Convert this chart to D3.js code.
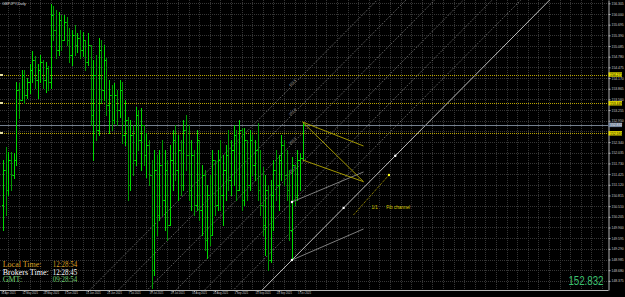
<!DOCTYPE html>
<html>
<head>
<meta charset="utf-8">
<script src="https://cdn.jsdelivr.net/npm/d3@7"></script>
<style>
  html, body { margin: 0; padding: 0; background: #000; overflow: hidden; }
  svg { display: block; }
</style>
</head>
<body>
<div id="vis"></div>
<script>
// Daily bars, 30 Apr 2021 .. 6 Oct 2021 (bar index 0..113)
const highs = [151.829,152.2,152.057,152.057,152.029,154.057,154.029,154.4,154.4,154.171,
  154.571,154.943,154.8,154.571,154.829,154.686,154.629,154.514,156.286,156.229,
  156.114,156.057,155.971,155.971,155.914,155.6,155.543,155.686,155.457,155.543,
  155.486,155.257,155.457,155.114,154.686,154.829,155.314,155.257,155.114,154.743,
  154.114,153.971,154.029,153.829,154.114,154.057,153.543,153.057,152.971,152.829,
  153.343,153.257,153.314,152.829,152.6,152.4,151.829,152.114,151.971,152.114,
  152.4,152.114,151.829,152.257,152.686,152.829,152.543,152.4,152.971,153.114,
  152.829,152.4,152.114,152.686,152.4,151.686,151.543,151.114,151.4,152.114,
  151.829,152.114,152.4,151.971,152.257,152.686,152.4,152.829,152.686,152.971,
  152.743,152.743,152.4,152.686,152.543,152.4,152.886,152.114,151.629,151.4,
  151.114,151.257,151.829,152.114,151.971,152.543,152.4,152.114,151.543,151.914,
  151.686,152.114,152.029,152.914];
const lows = [149.829,150.257,150.829,150.971,151.314,151.686,153.029,153.543,153.457,153.6,
  153.743,154.057,153.886,153.6,154.057,153.886,153.771,153.829,153.886,155.257,
  154.743,154.829,154.971,155.257,155.114,154.629,154.543,154.829,154.914,154.743,
  154.8,154.4,154.543,152.829,151.829,152.4,152.543,153.457,153.543,153.114,
  152.6,152.686,152.886,152.829,153.057,152.314,152.257,150.686,150.971,151.4,
  151.686,152.114,151.543,151.686,151.343,151.114,148.171,148.543,149.686,150.114,
  150.257,149.829,149.543,149.971,150.971,151.257,150.686,150.829,150.971,151.543,
  150.686,150.4,150.257,150.4,150.114,149.686,149.257,149.029,149.4,149.686,
  150.257,150.4,150.4,149.971,150.686,150.971,150.829,151.114,150.686,150.971,
  150.4,150.543,150.686,150.971,151.4,151.257,150.686,150.257,149.686,149.114,
  148.686,148.914,149.829,150.686,150.4,151.257,151.114,150.686,149.543,148.971,
  150.543,150.686,150.971,151.829];
const opens = [150.543,151.543,150.971,151.829,151.4,151.829,153.829,153.543,154.257,153.686,
  154.057,154.4,154.686,154.114,154.4,154.629,154.114,154.457,154.057,155.971,
  155.543,154.971,155.829,155.257,155.771,155.257,154.829,155.4,155.114,155.314,
  154.971,155.257,154.629,155.114,153.114,154.257,152.686,154.971,153.829,154.686,
  153.4,153.686,152.971,153.686,153.257,153.829,152.543,152.971,151.114,152.543,
  151.829,153.114,152.4,152.829,151.971,152.257,151.4,148.686,151.543,150.257,
  151.686,150.686,151.543,149.971,151.829,152.4,151.543,152.114,151.114,152.686,
  151.971,150.971,151.971,150.543,152.4,150.4,151.4,149.543,150.829,149.686,
  151.829,150.543,151.829,150.829,151.543,151.971,151.257,152.114,152.543,150.971,
  152.686,150.686,152.4,151.114,152.4,151.686,152.114,150.971,150.543,149.971,
  150.971,148.971,150.829,151.543,151.114,151.829,152.257,151.4,150.971,149.829,
  151.686,150.829,151.829,151.886];
const closes = [151.543,150.971,151.829,151.4,151.829,153.829,153.543,154.257,153.686,154.057,
  154.4,154.686,154.114,154.4,154.629,154.114,154.457,154.057,155.971,155.543,
  154.971,155.829,155.257,155.771,155.257,154.829,155.4,155.114,155.314,154.971,
  155.257,154.629,155.114,153.114,154.257,152.686,154.971,153.829,154.686,153.4,
  153.686,152.971,153.686,153.257,153.829,152.543,152.971,151.114,152.543,151.829,
  153.114,152.4,152.829,151.971,152.257,151.4,148.686,151.543,150.257,151.686,
  150.686,151.543,149.971,151.829,152.4,151.543,152.114,151.114,152.686,151.971,
  150.971,151.971,150.543,152.4,150.4,151.4,149.543,150.829,149.686,151.829,
  150.543,151.829,150.829,151.543,151.971,151.257,152.114,152.543,150.971,152.686,
  150.686,152.4,151.114,152.4,151.686,152.114,150.971,150.543,149.971,150.971,
  148.971,150.829,151.543,151.114,151.829,152.257,151.4,150.971,149.829,151.686,
  150.829,151.829,151.886,152.832];

const dateLabelBars = [0, 8, 16, 24, 32, 40, 48, 56, 64, 72, 80, 88, 96, 104, 112];
const dateLabels = ['30 Apr 2021', '12 May 2021', '24 May 2021', '3 Jun 2021', '15 Jun 2021',
  '25 Jun 2021', '7 Jul 2021', '19 Jul 2021', '29 Jul 2021', '10 Aug 2021', '20 Aug 2021',
  '1 Sep 2021', '13 Sep 2021', '23 Sep 2021', '5 Oct 2021'];

const priceTicks = [156.305,156.000,155.695,155.390,155.085,154.780,154.475,154.170,153.865,
  153.560,153.255,152.950,152.645,152.340,152.035,151.730,151.425,151.120,150.815,150.510,
  150.205,149.900,149.595,149.290,148.985,148.680,148.375];

const levelPrices = [154.271, 153.449, 152.591];   // yellow horizontal lines
const bidPrice = 152.832;

// fib channel: base through two points, levels given at bar 109
const chanBars = [109, 148];
const chanBase = [148.971, 151.95];
const chanLevelPrices = [148.971, 149.8, 150.629, 151.457, 152.286, 153.114, 153.943];
const chanLevelNames = ['', '', '', '161.8', '200.0', '261.8', '423.6'];
const chanDots = [[109, 148.971], [128.5, 150.46], [148, 151.95], [109, 150.629]];

const graySegs = [[109, 150.629, 136, 151.486], [109, 148.971, 136, 149.857]];
const yellowSegs = [[113, 152.914, 136, 152.229], [113, 152.914, 136, 151.209], [113, 151.829, 136, 151.209]];
const arrowSeg = [132.2, 150.257, 145.6, 151.4];
const noteTexts = [['1/1', 139, 150.42], ['Fib channel', 144.6, 150.42]];

const timeRows = [['Local Time:', '12:28:54', '#d9a024'], ['Brokers Time:', '12:28:45', '#ffffff'], ['GMT:', '09:28:54', '#6fd06f']];

// ---------------------------------------------------------------
let W = 625, H = 297;
let plotRight = 608, plotBottom = 290;

let svg = d3.select('#vis').append('svg').attr('width', W).attr('height', H);
svg.append('rect').attr('width', W).attr('height', H).attr('fill', '#000');

let x = d3.scaleLinear().domain([0, 113]).range([3.1, 302.55]);
let y = d3.scaleLinear().domain([148.114, 156.4]).range([plotBottom, 0]);
let px = d => Math.round(x(d)) + 0.5;
let py = d => Math.round(y(d)) + 0.5;

svg.append('clipPath').attr('id', 'plotClip')
  .append('rect').attr('x', 0).attr('y', 0).attr('width', plotRight).attr('height', plotBottom);

// grid
let grid = svg.append('g')
  .attr('stroke', '#363636').attr('stroke-dasharray', '1,1').attr('shape-rendering', 'crispEdges');
grid.selectAll('line.gy').data(priceTicks).join('line').attr('class', 'gy')
  .attr('x1', 0).attr('x2', plotRight).attr('y1', py).attr('y2', py);
grid.selectAll('line.gx').data(d3.range(2, 229, 4)).join('line').attr('class', 'gx')
  .attr('x1', px).attr('x2', px).attr('y1', 0).attr('y2', plotBottom);

let draw = svg.append('g').attr('clip-path', 'url(#plotClip)');

// fib channel lines
let slope = (chanBase[1] - chanBase[0]) / (chanBars[1] - chanBars[0]);
let chanG = draw.append('g');
chanG.selectAll('line').data(chanLevelPrices).join('line')
  .attr('x1', x(-80)).attr('x2', x(260))
  .attr('y1', d => y(d + slope * (-80 - chanBars[0])))
  .attr('y2', d => y(d + slope * (260 - chanBars[0])))
  .attr('stroke', (d, i) => i == 0 ? '#d0d0d0' : '#9a9a9a')
  .attr('stroke-width', (d, i) => i == 0 ? 0.9 : 0.8)
  .attr('stroke-dasharray', (d, i) => i == 0 ? null : '1,1.5');

chanG.selectAll('text').data(chanLevelPrices).join('text')
  .attr('transform', d => `translate(${x(109.5)},${y(d + slope * 0.5) - 1}) rotate(-45)`)
  .attr('fill', '#bdbdbd').attr('font-family', 'Liberation Sans, Arial, sans-serif')
  .attr('font-size', '3.4px').attr('text-anchor', 'middle')
  .text((d, i) => chanLevelNames[i]);

// horizontal levels
draw.selectAll('line.lvl').data(levelPrices).join('line').attr('class', 'lvl')
  .attr('x1', 0).attr('x2', plotRight).attr('y1', py).attr('y2', py)
  .attr('stroke', '#b9a400').attr('stroke-dasharray', '1,1').attr('shape-rendering', 'crispEdges');
draw.selectAll('rect.lvlmark').data(levelPrices).join('rect').attr('class', 'lvlmark')
  .attr('x', 0).attr('y', d => Math.round(y(d)) - 1).attr('width', 3).attr('height', 2)
  .attr('fill', '#e8e0a0');

draw.append('line')
  .attr('x1', 0).attr('x2', plotRight).attr('y1', py(bidPrice)).attr('y2', py(bidPrice))
  .attr('stroke', '#74808f').attr('shape-rendering', 'crispEdges');

// bars: up bars lime, down bars a darker green
let barColor = i => closes[i] >= opens[i] ? '#00dc00' : '#009c00';
let barG = draw.append('g').attr('shape-rendering', 'crispEdges');
barG.selectAll('line.hl').data(highs).join('line').attr('class', 'hl')
  .attr('stroke', (d, i) => barColor(i))
  .attr('x1', (d, i) => px(i)).attr('x2', (d, i) => px(i))
  .attr('y1', d => Math.round(y(d))).attr('y2', (d, i) => Math.round(y(lows[i])) + 1);
barG.selectAll('line.op').data(opens).join('line').attr('class', 'op')
  .attr('stroke', (d, i) => barColor(i))
  .attr('x1', (d, i) => px(i) - 1.5).attr('x2', (d, i) => px(i) - 0.5)
  .attr('y1', py).attr('y2', py);
barG.selectAll('line.cl').data(closes).join('line').attr('class', 'cl')
  .attr('stroke', (d, i) => barColor(i))
  .attr('x1', (d, i) => px(i) + 0.5).attr('x2', (d, i) => px(i) + 1.5)
  .attr('y1', py).attr('y2', py);

// gray and yellow segments
draw.selectAll('line.gseg').data(graySegs).join('line').attr('class', 'gseg')
  .attr('x1', d => x(d[0])).attr('y1', d => y(d[1])).attr('x2', d => x(d[2])).attr('y2', d => y(d[3]))
  .attr('stroke', '#8c8c8c').attr('stroke-width', 0.9);
draw.selectAll('line.yseg').data(yellowSegs).join('line').attr('class', 'yseg')
  .attr('x1', d => x(d[0])).attr('y1', d => y(d[1])).attr('x2', d => x(d[2])).attr('y2', d => y(d[3]))
  .attr('stroke', '#b4a800').attr('stroke-width', 0.9);

draw.append('line')
  .attr('x1', x(arrowSeg[0])).attr('y1', y(arrowSeg[1])).attr('x2', x(arrowSeg[2])).attr('y2', y(arrowSeg[3]))
  .attr('stroke', '#c8b400').attr('stroke-width', 0.9).attr('stroke-dasharray', '1,1');
draw.append('circle').attr('cx', x(arrowSeg[2])).attr('cy', y(arrowSeg[3])).attr('r', 1.2).attr('fill', '#ffff20');

draw.selectAll('circle.dot').data(chanDots).join('circle').attr('class', 'dot')
  .attr('cx', d => x(d[0])).attr('cy', d => y(d[1])).attr('r', 1.2).attr('fill', '#ffffff');

draw.selectAll('text.note').data(noteTexts).join('text').attr('class', 'note')
  .attr('x', d => x(d[1])).attr('y', d => y(d[2]))
  .attr('fill', '#d8c800').attr('font-family', 'Liberation Sans, Arial, sans-serif')
  .attr('font-size', '4.6px').text(d => d[0]);

// right price axis; plain labels that sit under a coloured tag are left out
let tagPrices = levelPrices.concat([bidPrice]);
let freeTicks = priceTicks.filter(t => tagPrices.every(p => Math.abs(y(t) - y(p)) > 3));
let yAxis = svg.append('g').attr('transform', `translate(${plotRight + 0.5},0)`)
  .call(d3.axisRight(y).tickValues(freeTicks).tickSize(2).tickSizeOuter(0).tickPadding(1)
    .tickFormat(d3.format('.3f')));
yAxis.select('.domain').attr('stroke', '#b4b4b4');
yAxis.selectAll('.tick line').attr('stroke', '#b4b4b4');
yAxis.selectAll('text').attr('fill', '#c8c8c8')
  .attr('font-family', 'Liberation Sans, Arial, sans-serif').style('font-size', '3.4px');

// highlighted price labels
let tags = svg.append('g');
levelPrices.forEach(function(p) {
  tags.append('rect').attr('x', plotRight + 0.5).attr('y', y(p) - 2.2).attr('width', 13.5).attr('height', 4.4).attr('fill', '#e6dc00');
  tags.append('text').attr('x', plotRight + 2).attr('y', y(p) + 1.3).attr('fill', '#000')
    .attr('font-family', 'Liberation Sans, Arial, sans-serif').attr('font-size', '3.4px').text(d3.format('.3f')(p));
});
tags.append('rect').attr('x', plotRight + 0.5).attr('y', y(bidPrice) - 2.2).attr('width', 13.5).attr('height', 4.4).attr('fill', '#7486a0');
tags.append('text').attr('x', plotRight + 2).attr('y', y(bidPrice) + 1.3).attr('fill', '#e8e8e8')
  .attr('font-family', 'Liberation Sans, Arial, sans-serif').attr('font-size', '3.4px').text(d3.format('.3f')(bidPrice));

// bottom time axis
svg.append('line').attr('x1', 0).attr('x2', plotRight + 0.5).attr('y1', plotBottom + 0.5).attr('y2', plotBottom + 0.5)
  .attr('stroke', '#b4b4b4');
let xAxis = svg.append('g').attr('transform', `translate(0,${plotBottom + 0.5})`)
  .call(d3.axisBottom(x).tickValues(dateLabelBars).tickSize(1.5).tickSizeOuter(0).tickPadding(0.5)
    .tickFormat((d, i) => dateLabels[i]));
xAxis.select('.domain').remove();
xAxis.selectAll('.tick line').attr('stroke', '#b4b4b4');
xAxis.selectAll('text').attr('fill', '#c8c8c8').attr('text-anchor', 'start').attr('dx', '-2.4')
  .attr('font-family', 'Liberation Sans, Arial, sans-serif').style('font-size', '2.7px');

// title
svg.append('text').attr('x', 2).attr('y', 5).attr('fill', '#d8d8d8')
  .attr('font-family', 'Liberation Sans, Arial, sans-serif').attr('font-size', '3.8px').text('GBPJPY,Daily');

// clock block
let clock = svg.append('g').attr('font-family', 'Liberation Serif, Times New Roman, serif').attr('font-size', '8px');
timeRows.forEach(function(r, i) {
  let by = 267 + i * 7.6;
  clock.append('text').attr('x', 2.7).attr('y', by).attr('fill', r[2]).text(r[0]);
  clock.append('text').attr('x', 52.7).attr('y', by).attr('fill', r[2])
    .attr('textLength', 24.6).attr('lengthAdjust', 'spacingAndGlyphs').text(r[1]);
});

// current bid, big and narrow
svg.append('text').attr('transform', 'translate(603.5,285) scale(0.72,1)').attr('text-anchor', 'end')
  .attr('fill', '#3cc070').attr('font-family', 'Liberation Sans, Arial, sans-serif').attr('font-size', '13.5px')
  .text(d3.format('.3f')(bidPrice));
</script>
</body>
</html>
